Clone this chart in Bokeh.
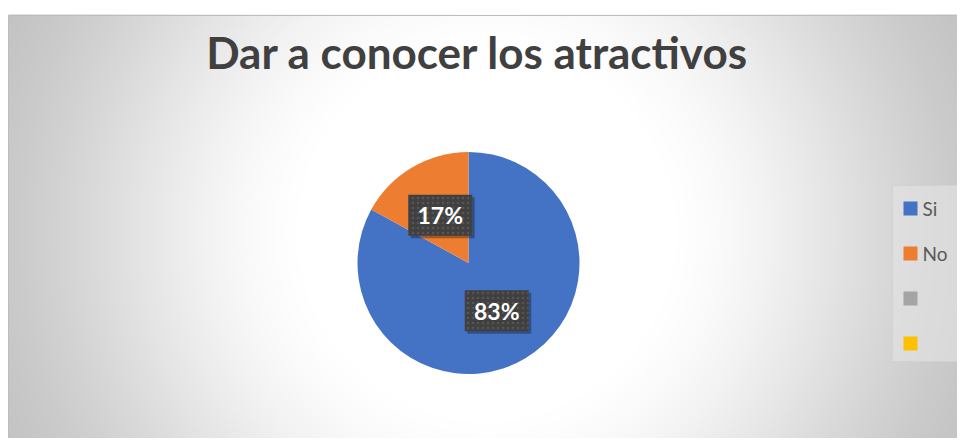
import numpy as np
from bokeh.plotting import figure
from bokeh.models import Range1d, ColumnDataSource
from bokeh.core.properties import value
from bokeh.embed import file_html
from bokeh.resources import INLINE

# ---- data ----
title = "Dar a conocer los atractivos"
categories = ["Si", "No", "", ""]
values = [83, 17, 0, 0]
colors = ["#4472C4", "#ED7D31", "#A5A5A5", "#FFC000"]

# ---- layout (screen pixel coords; data y = H - img_y) ----
W, H = 957, 438


def Y(img_y):
    return H - np.asarray(img_y, dtype=float)


p = figure(width=W, height=H, output_backend="svg", toolbar_location=None,
           x_range=Range1d(0, W), y_range=Range1d(0, H), min_border=0)
p.axis.visible = False
p.grid.visible = False
p.outline_line_color = None
p.background_fill_color = "white"
p.border_fill_color = "white"

# chart area with radial gradient background
area_left, area_right, area_top, area_bottom = 8, 963, 15, 446
aw, ah = area_right - area_left, area_bottom - area_top
step = 2
nx, ny = aw // step + 1, ah // step + 1
xs = area_left + (np.arange(nx) + 0.5) * step
ys_img = area_bottom - (np.arange(ny) + 0.5) * step
gx, gy = np.meshgrid(xs, ys_img)
cx, cy = 486, 232
r = np.hypot(gx - cx, gy - cy)
t = np.clip((r - 190) / (540 - 190), 0, 1)
t = t * t * (3 - 2 * t) * 0.55 + t * 0.45
g = (255 - (255 - 194) * t).astype(np.uint32)
img = (255 << 24) | (g << 16) | (g << 8) | g
p.image_rgba(image=[img.astype(np.uint32)], x=area_left, y=float(Y(area_bottom)),
             dw=nx * step, dh=ny * step)
p.rect(x=(area_left + area_right) / 2, y=Y((area_top + area_bottom) / 2),
       width=aw, height=ah, fill_color=None, line_color="#bdbdbd", line_width=1)

# title
p.text(x=[477], y=[Y(51)], text=[title], text_font=value("Lato"),
       text_font_style="bold", text_font_size="44px", text_color="#404040",
       text_align="center", text_baseline="middle")

# pie
pcx, pcy, pr = 468, Y(262.5), 111
vals = np.array(values, dtype=float)
frac = vals / vals.sum()
cum = np.concatenate([[0], np.cumsum(frac)])
start = np.pi / 2 - 2 * np.pi * cum[:-1]
end = np.pi / 2 - 2 * np.pi * cum[1:]
mask = vals > 0
src = ColumnDataSource(dict(start=start[mask], end=end[mask],
                            color=[c for c, m in zip(colors, mask) if m]))
p.wedge(x=pcx, y=pcy, radius=pr, start_angle="start", end_angle="end",
        direction="clock", fill_color="color", line_color=None, source=src)

# data labels
mid = (start + end) / 2
lx = pcx + 0.5 * pr * np.cos(mid[mask])
ly = pcy + 0.5 * pr * np.sin(mid[mask])
labels = [f"{round(f * 100)}%" for f in frac[mask]]
p.rect(x=lx + 2.5, y=ly - 2.5, width=64, height=41, fill_color="black",
       fill_alpha=0.3, line_color=None)
p.rect(x=lx, y=ly, width=64, height=41, fill_color="#404040", line_color=None,
       hatch_pattern="dot", hatch_color="#555555", hatch_scale=5, hatch_weight=1)
p.text(x=lx, y=ly, text=labels, text_font=value("Lato"), text_font_style="bold",
       text_font_size="23px", text_color="white", text_align="center",
       text_baseline="middle")

# legend
p.rect(x=927, y=Y(273), width=70, height=176, fill_color="#e4e4e4",
       fill_alpha=0.6, line_color="#d2d2d2")
leg_y = 208 + 45 * np.arange(len(categories))
p.rect(x=[910] * len(categories), y=Y(leg_y), width=14, height=14,
       fill_color=colors, line_color=None)
p.text(x=[922] * len(categories), y=Y(leg_y), text=categories,
       text_font=value("Lato"), text_font_size="19px", text_color="#595959",
       text_align="left", text_baseline="middle")

open("out.html", "w").write(file_html(p, INLINE))
